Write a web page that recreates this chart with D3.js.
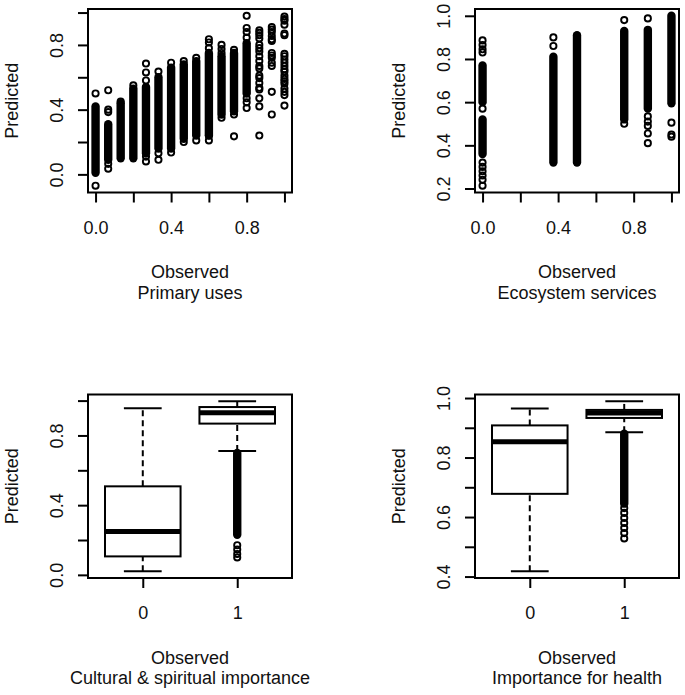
<!DOCTYPE html>
<html><head><meta charset="utf-8">
<script src="https://cdn.jsdelivr.net/npm/d3@7"></script>
<style>
html,body{margin:0;padding:0;background:#fff;}
svg{display:block;font-family:"Liberation Sans",Arial,sans-serif;}
</style></head><body>
<svg id="chart" width="685" height="695"></svg>
<script>
// ---------------- DATA ----------------
// Panel 1: Primary uses (observed vs predicted)
const p1Observed = [0, 0.067, 0.133, 0.2, 0.267, 0.333, 0.4, 0.467, 0.533, 0.6, 0.667, 0.733, 0.8, 0.867, 0.933, 1.0];
// dense runs of overlapping points: [low, high] per column
const p1DenseRuns = [
  [[0.01, 0.42]], [[0.09, 0.31]], [[0.10, 0.44]], [[0.10, 0.53]], [[0.13, 0.54]],
  [[0.16, 0.60]], [[0.16, 0.66]], [[0.22, 0.68]], [[0.24, 0.70]], [[0.24, 0.75]],
  [[0.37, 0.73]], [[0.39, 0.75]], [[0.50, 0.81]], [], [], []
];
// individually visible points per column
const p1Points = [
  [0.50, -0.07],
  [0.52, 0.40, 0.385, 0.065, 0.035],
  [0.45],
  [0.55],
  [0.685, 0.63, 0.58, 0.11, 0.08],
  [0.635, 0.13, 0.09],
  [0.69, 0.135],
  [0.70, 0.20],
  [0.72, 0.21],
  [0.835, 0.815, 0.78, 0.24, 0.21],
  [0.80, 0.775, 0.75, 0.35],
  [0.77, 0.37, 0.235],
  [0.98, 0.905, 0.88, 0.845, 0.47, 0.445, 0.41],
  [0.89, 0.875, 0.86, 0.84, 0.80, 0.78, 0.76, 0.73, 0.70, 0.67, 0.655, 0.61, 0.595, 0.565, 0.535, 0.525, 0.47, 0.42, 0.24],
  [0.91, 0.895, 0.88, 0.855, 0.835, 0.825, 0.75, 0.735, 0.72, 0.69, 0.67, 0.51, 0.37],
  [0.975, 0.96, 0.95, 0.925, 0.87, 0.86, 0.745, 0.73, 0.71, 0.69, 0.67, 0.65, 0.635, 0.61, 0.59, 0.575, 0.56, 0.53, 0.51, 0.49, 0.425]
];
const p1XTicks = [0, 0.2, 0.4, 0.6, 0.8, 1.0];
const p1XLabels = [0, 0.4, 0.8];
const p1YTicks = [0, 0.2, 0.4, 0.6, 0.8, 1.0];
const p1YLabels = [0, 0.4, 0.8];
const p1Title = "Primary uses";

// Panel 2: Ecosystem services
const p2Observed = [0, 0.375, 0.5, 0.75, 0.875, 1.0];
const p2DenseRuns = [
  [[0.60, 0.77], [0.36, 0.52]],
  [[0.32, 0.81]],
  [[0.32, 0.91]],
  [[0.52, 0.93]],
  [[0.57, 0.935]],
  [[0.595, 1.0]]
];
const p2Points = [
  [0.886, 0.865, 0.845, 0.83, 0.57, 0.32, 0.30, 0.28, 0.26, 0.24, 0.213],
  [0.90, 0.86],
  [],
  [0.98, 0.50],
  [0.988, 0.534, 0.51, 0.49, 0.455, 0.41],
  [0.505, 0.45, 0.44]
];
const p2XTicks = [0, 0.2, 0.4, 0.6, 0.8, 1.0];
const p2XLabels = [0, 0.4, 0.8];
const p2YTicks = [0.2, 0.4, 0.6, 0.8, 1.0];
const p2YLabels = [0.2, 0.4, 0.6, 0.8, 1.0];
const p2Title = "Ecosystem services";

// Panel 3: Cultural & spiritual importance (boxplot)
const p3Groups = ["0", "1"];
// [lower whisker, Q1, median, Q3, upper whisker]
const p3Stats = [
  [0.021, 0.106, 0.249, 0.508, 0.956],
  [0.711, 0.868, 0.930, 0.963, 0.996]
];
const p3OutlierRuns = [[], [[0.23, 0.70]]];
const p3Outliers = [[], [0.17, 0.145, 0.12, 0.10]];
const p3YTicks = [0, 0.2, 0.4, 0.6, 0.8, 1.0];
const p3YLabels = [0, 0.4, 0.8];
const p3Title = "Cultural & spiritual importance";

// Panel 4: Importance for health (boxplot)
const p4Groups = ["0", "1"];
const p4Stats = [
  [0.418, 0.678, 0.853, 0.908, 0.965],
  [0.885, 0.933, 0.950, 0.960, 0.989]
];
const p4OutlierRuns = [[], [[0.645, 0.88]]];
const p4Outliers = [[], [0.63, 0.614, 0.597, 0.58, 0.563, 0.546, 0.528]];
const p4YTicks = [0.4, 0.5, 0.6, 0.7, 0.8, 0.9, 1.0];
const p4YLabels = [0.4, 0.6, 0.8, 1.0];
const p4Title = "Importance for health";

const xAxisName = "Observed";
const yAxisName = "Predicted";

// ---------------- DRAWING ----------------
const svg = d3.select("#chart");
const FS = 18, R = 3.1, SW = 1.9, CAP = 4.2;

function pad(ext) { const r = ext[1] - ext[0]; return [ext[0] - 0.04 * r, ext[1] + 0.04 * r]; }

function frameAndAxes(p, x, y, xTicks, xFmt, yTicks, yFmt, title) {
  const g = svg.append("g");
  const bottom = p.top + p.h;
  const ya = g.append("g").attr("transform", `translate(${p.left},0)`)
    .call(d3.axisLeft(y).tickValues(yTicks).tickSize(10).tickFormat(yFmt));
  const xa = g.append("g").attr("transform", `translate(0,${bottom})`)
    .call(d3.axisBottom(x).tickValues(xTicks).tickSize(10).tickFormat(xFmt));
  [ya, xa].forEach(a => {
    a.attr("font-size", FS).attr("font-family", null);
    a.select(".domain").remove();
    a.selectAll(".tick line").attr("stroke", "#000").attr("stroke-width", 2);
    a.selectAll(".tick text").attr("fill", "#111");
  });
  ya.selectAll(".tick text").attr("x", null).attr("dy", null)
    .attr("text-anchor", "middle").attr("transform", "translate(-25,0) rotate(-90)");
  xa.selectAll(".tick text").attr("y", 41.3).attr("dy", null);
  g.append("rect").attr("x", p.left).attr("y", p.top).attr("width", p.w).attr("height", p.h)
    .attr("fill", "none").attr("stroke", "#000").attr("stroke-width", 2);
  const cx = p.left + p.w / 2;
  g.append("text").attr("x", cx).attr("y", bottom + 85.7).attr("text-anchor", "middle")
    .attr("font-size", FS).attr("fill", "#111").text(xAxisName);
  g.append("text").attr("x", cx).attr("y", bottom + 106.3).attr("text-anchor", "middle")
    .attr("font-size", FS).attr("fill", "#111").text(title);
  g.append("text").attr("transform", `translate(${p.left - 70},${p.top + p.h / 2}) rotate(-90)`)
    .attr("text-anchor", "middle").attr("font-size", FS).attr("fill", "#111").text(yAxisName);
}

function drawRuns(g, xs, runsList, y) {
  runsList.forEach((runs, i) => runs.forEach(r => {
    g.append("rect").attr("x", xs(i) - CAP).attr("width", 2 * CAP)
      .attr("y", y(r[1]) - CAP).attr("height", y(r[0]) - y(r[1]) + 2 * CAP)
      .attr("rx", CAP).attr("fill", "#000");
  }));
}
function drawPoints(g, xs, ptsList, y) {
  ptsList.forEach((pts, i) => g.selectAll(null).data(pts).enter().append("circle")
    .attr("cx", xs(i)).attr("cy", d => y(d)).attr("r", R)
    .attr("fill", "none").attr("stroke", "#000").attr("stroke-width", SW));
}

function scatterPanel(p, obs, runs, pts, xT, xL, yT, yL, title) {
  const allY = pts.flat().concat(runs.flat(2));
  const x = d3.scaleLinear().domain(pad(d3.extent(obs))).range([p.left, p.left + p.w]);
  const y = d3.scaleLinear().domain(pad(d3.extent(allY))).range([p.top + p.h, p.top]);
  const g = svg.append("g");
  drawRuns(g, i => x(obs[i]), runs, y);
  drawPoints(g, i => x(obs[i]), pts, y);
  frameAndAxes(p, x, y, xT, d => xL.includes(d) ? d.toFixed(1) : "", yT, d => yL.includes(d) ? d.toFixed(1) : "", title);
}

function boxPanel(p, groups, stats, oRuns, outs, yT, yL, title) {
  const allY = stats.flat().concat(outs.flat(), oRuns.flat(2));
  const x = d3.scaleLinear().domain(pad([0.5, groups.length + 0.5])).range([p.left, p.left + p.w]);
  const y = d3.scaleLinear().domain(pad(d3.extent(allY))).range([p.top + p.h, p.top]);
  const g = svg.append("g");
  const pos = i => x(i + 1);
  const hw = x(0.4) - x(0), cw = x(0.2) - x(0);
  stats.forEach((s, i) => {
    const cx = pos(i);
    g.append("line").attr("x1", cx).attr("x2", cx).attr("y1", y(s[0])).attr("y2", y(s[1]))
      .attr("stroke", "#000").attr("stroke-width", 2).attr("stroke-dasharray", "6,4");
    g.append("line").attr("x1", cx).attr("x2", cx).attr("y1", y(s[3])).attr("y2", y(s[4]))
      .attr("stroke", "#000").attr("stroke-width", 2).attr("stroke-dasharray", "6,4");
    [s[0], s[4]].forEach(v => g.append("line").attr("x1", cx - cw).attr("x2", cx + cw)
      .attr("y1", y(v)).attr("y2", y(v)).attr("stroke", "#000").attr("stroke-width", 2));
    g.append("rect").attr("x", cx - hw).attr("width", 2 * hw).attr("y", y(s[3]))
      .attr("height", y(s[1]) - y(s[3])).attr("fill", "#fff").attr("stroke", "#000").attr("stroke-width", 2);
    g.append("line").attr("x1", cx - hw).attr("x2", cx + hw).attr("y1", y(s[2])).attr("y2", y(s[2]))
      .attr("stroke", "#000").attr("stroke-width", 5);
  });
  drawRuns(g, pos, oRuns, y);
  drawPoints(g, pos, outs, y);
  const fmtY = d => yL.includes(d) ? d.toFixed(1) : "";
  frameAndAxes(p, x, y, groups.map((d, i) => i + 1), d => groups[d - 1], yT, fmtY, title);
}

const L1 = 88, L2 = 475, W = 204, T1 = 9, T2 = 394.5, H = 183.5;
scatterPanel({left: L1, top: T1, w: W, h: H}, p1Observed, p1DenseRuns, p1Points, p1XTicks, p1XLabels, p1YTicks, p1YLabels, p1Title);
scatterPanel({left: L2, top: T1, w: W, h: H}, p2Observed, p2DenseRuns, p2Points, p2XTicks, p2XLabels, p2YTicks, p2YLabels, p2Title);
boxPanel({left: L1, top: T2, w: W, h: H}, p3Groups, p3Stats, p3OutlierRuns, p3Outliers, p3YTicks, p3YLabels, p3Title);
boxPanel({left: L2, top: T2, w: W, h: H}, p4Groups, p4Stats, p4OutlierRuns, p4Outliers, p4YTicks, p4YLabels, p4Title);
</script>
</body></html>
